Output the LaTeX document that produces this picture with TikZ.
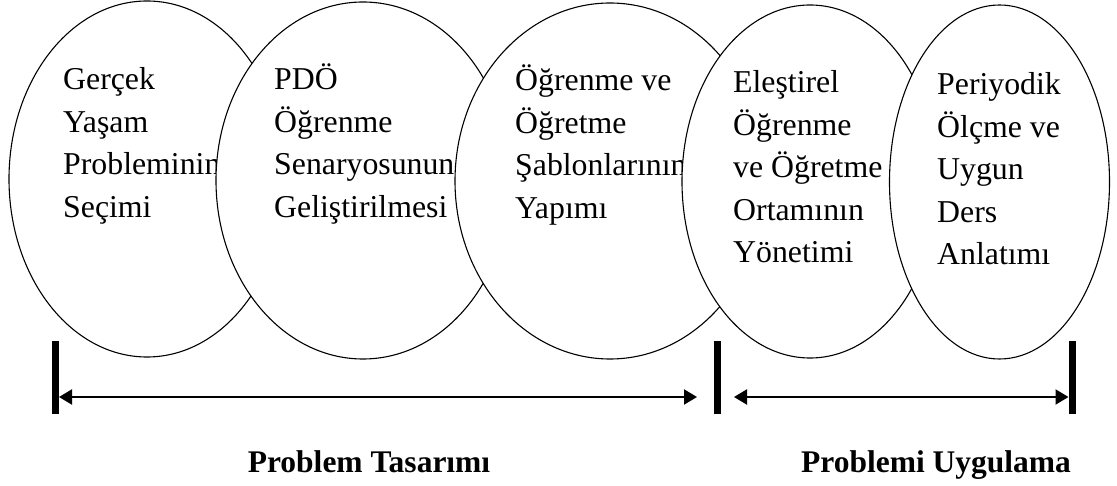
\documentclass[tikz,border=0pt]{standalone}
\usepackage{fontspec}
\setmainfont{Liberation Serif}
\newfontfamily\bodyf{Liberation Serif}
\newfontfamily\labf{Liberation Serif}
\usetikzlibrary{shapes.geometric,arrows.meta}
\begin{document}
\begin{tikzpicture}[x=1pt,y=-1pt,
  ell/.style={draw, line width=1.1pt, fill=white, ellipse, inner sep=0pt, outer sep=0pt},
  txt/.style={anchor=base west, inner sep=0pt, font=\bodyf\fontsize{31.8}{42.5}\selectfont},
  barnode/.style={fill=black, draw=none, minimum width=7pt, minimum height=73pt, inner sep=0pt, outer sep=0pt},
  arr/.style={{Triangle[length=13pt,width=15pt]}-{Triangle[length=13pt,width=15pt]}, line width=2pt},
  lab/.style={anchor=base, inner sep=0pt, font=\labf\bfseries\fontsize{31.5}{36}\selectfont}]
\useasboundingbox (0,0) rectangle (1117,486);
\fill[white] (0,0) rectangle (1117,486);

\node[ell, minimum width=276pt, minimum height=356pt] (e1) at (147,179) {};
\node[txt] (t1) at (63,90) {\parbox[t]{300pt}{Gerçek\\Yaşam\\Probleminin\\Seçimi}};

\node[ell, minimum width=294pt, minimum height=357pt] (e2) at (363,180.5) {};
\node[txt] (t2) at (274,90) {\parbox[t]{300pt}{PDÖ\\Öğrenme\\Senaryosunun\\Geliştirilmesi}};

\node[ell, minimum width=310pt, minimum height=356pt] (e3) at (610,181) {};
\node[txt] (t3) at (515,91) {\parbox[t]{300pt}{Öğrenme ve\\Öğretme\\Şablonlarının\\Yapımı}};

\node[ell, minimum width=256pt, minimum height=353pt] (e4) at (810,181.5) {};
\node[txt] (t4) at (733,93) {\parbox[t]{300pt}{Eleştirel\\Öğrenme\\ve Öğretme\\Ortamının\\Yönetimi}};

\node[ell, minimum width=220pt, minimum height=354pt] (e5) at (999.5,182) {};
\node[txt] (t5) at (937,95) {\parbox[t]{300pt}{Periyodik\\Ölçme ve\\Uygun\\Ders\\Anlatımı}};

\node[barnode] (b1) at (55.5,377.5) {};
\node[barnode] (b2) at (717.5,377.5) {};
\node[barnode] (b3) at (1072,377.5) {};

\coordinate (a1e) at (697,397);
\coordinate (a2s) at (734,397);
\draw[arr] (b1.east |- a1e) -- (a1e);
\draw[arr] (a2s) -- (b3.west |- a2s);

\node[lab] (l1) at (369,472) {Problem Tasarımı};
\node[lab] (l2) at (936,472) {Problemi Uygulama};
\end{tikzpicture}
\end{document}
